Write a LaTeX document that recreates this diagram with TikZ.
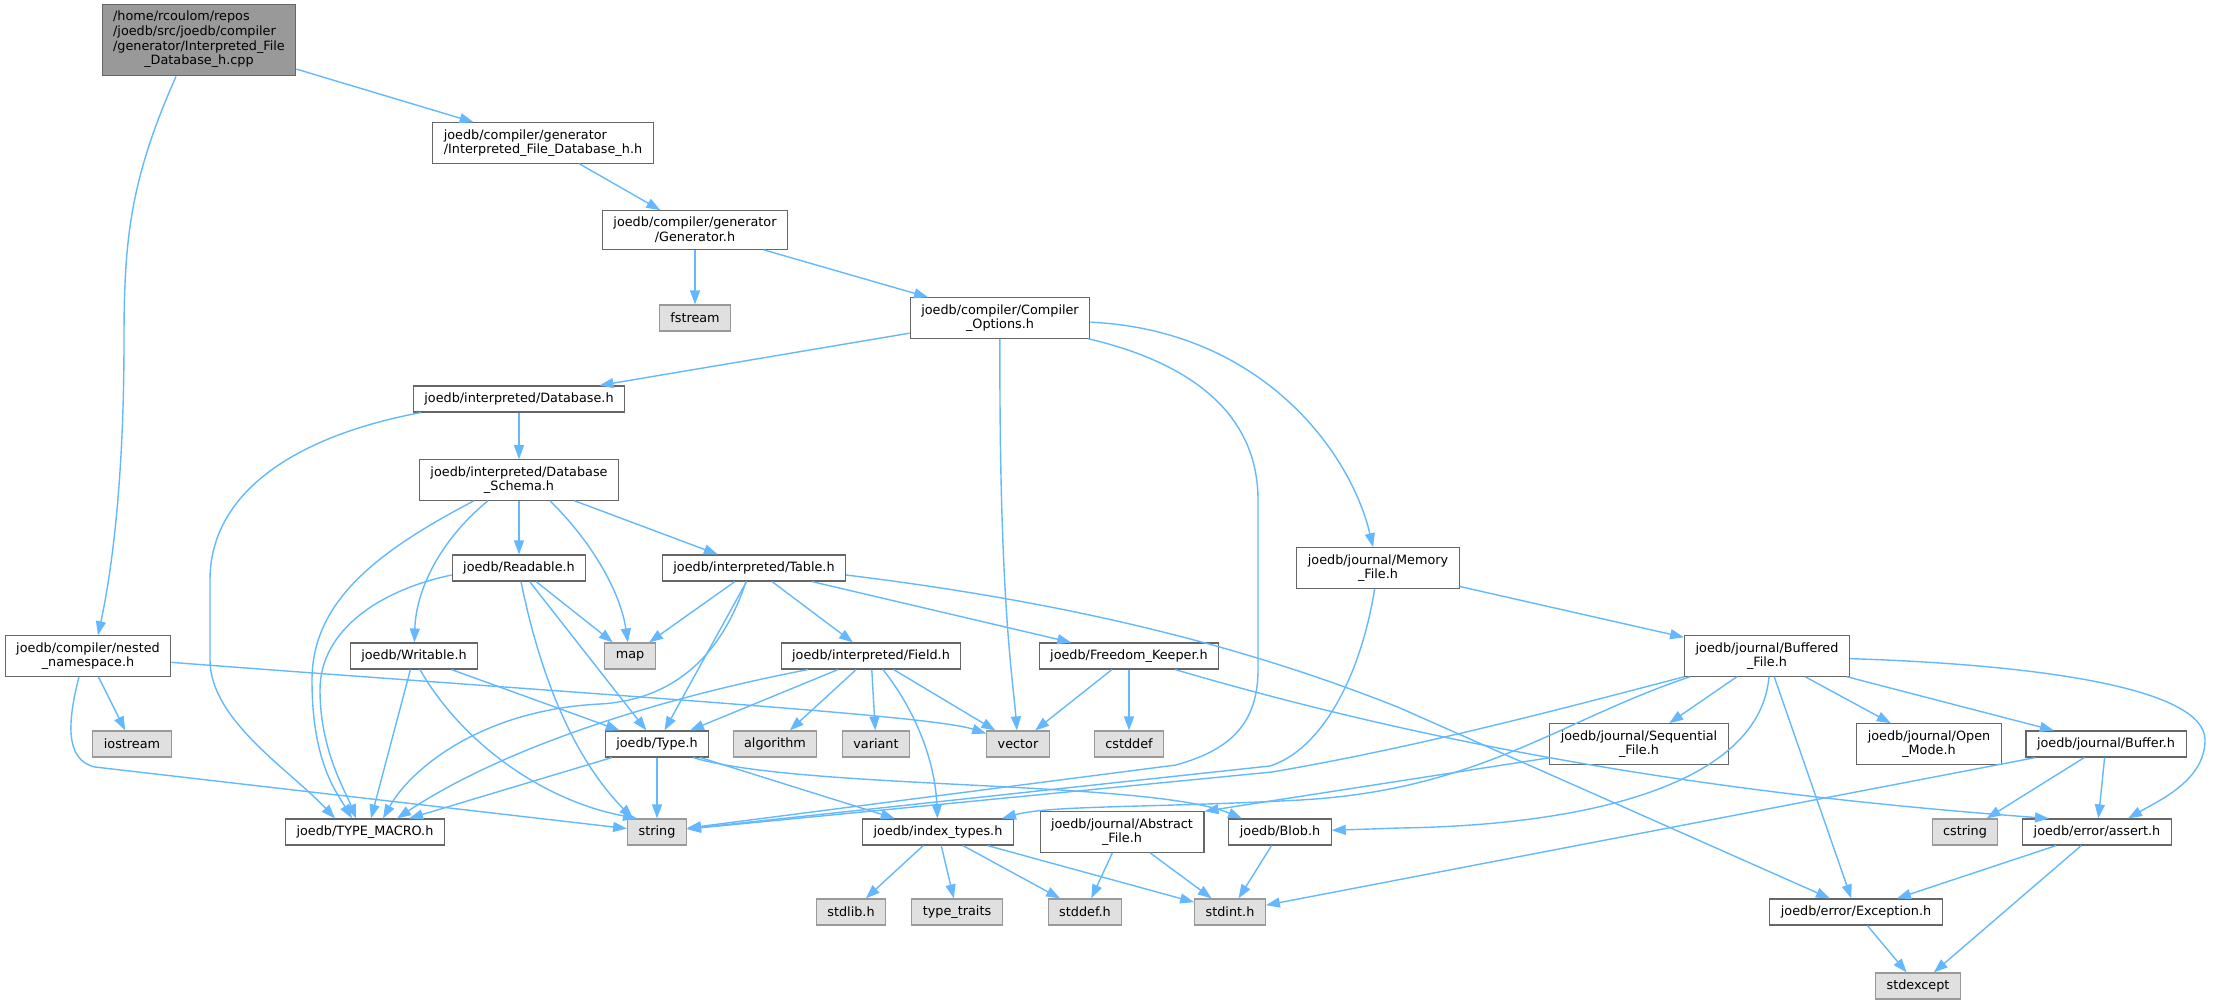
\documentclass[tikz,border=0pt]{standalone}
\usepackage{fontspec}
\setmainfont{DejaVu Sans}
\usepackage{tikz}
\usetikzlibrary{arrows.meta}
\definecolor{edgeblue}{HTML}{63B8FF}
\definecolor{docgray}{HTML}{666666}
\definecolor{sysgray}{HTML}{999999}
\definecolor{sysfill}{HTML}{E0E0E0}
\tikzset{>={Triangle[length=14pt, width=10pt]}}

\begin{document}
\begin{tikzpicture}[x=1pt, y=-1pt,
    hdr/.style={draw=docgray, line width=1.1pt, fill=white, align=center, inner xsep=11pt, inner ysep=6.5pt, minimum height=26pt, font=\fontsize{12.8}{14.7}\selectfont},
    syshdr/.style={hdr, draw=sysgray, fill=sysfill},
    srcfile/.style={hdr, fill=sysgray},
    incl/.style={->, draw=edgeblue, line width=1.4pt}]
    \useasboundingbox (0, 0) rectangle (2213, 1004);
    \node[srcfile] (root) at (199, 40) {\begin{tabular}{@{}l@{}}/home/rcoulom/repos\\/joedb/src/joedb/compiler\\/generator/Interpreted\_File\\\multicolumn{1}{@{}c@{}}{\_Database\_h.cpp}\end{tabular}};
    \node[hdr, align=left] (ifdh) at (543, 143) {joedb/compiler/generator\\/Interpreted\_File\_Database\_h.h};
    \node[hdr] (gen) at (695, 230) {joedb/compiler/generator\\/Generator.h};
    \node[syshdr] (fstream) at (695, 318) {fstream};
    \node[hdr] (copts) at (1000, 318) {joedb/compiler/Compiler\\\_Options.h};
    \node[hdr] (dbh) at (519, 399) {joedb/interpreted/Database.h};
    \node[hdr] (schema) at (519, 480) {joedb/interpreted/Database\\\_Schema.h};
    \node[hdr] (readable) at (519, 568) {joedb/Readable.h};
    \node[hdr] (table) at (754, 568) {joedb/interpreted/Table.h};
    \node[hdr] (memory) at (1378, 568) {joedb/journal/Memory\\\_File.h};
    \node[hdr] (nested) at (88, 656) {joedb/compiler/nested\\\_namespace.h};
    \node[hdr] (writable) at (414, 656) {joedb/Writable.h};
    \node[syshdr] (map) at (630, 656) {map};
    \node[hdr] (field) at (871, 656) {joedb/interpreted/Field.h};
    \node[hdr] (freedom) at (1129, 656) {joedb/Freedom\_Keeper.h};
    \node[hdr] (buffered) at (1767, 656) {joedb/journal/Buffered\\\_File.h};
    \node[syshdr] (iostream) at (132, 744) {iostream};
    \node[hdr] (type) at (657, 744) {joedb/Type.h};
    \node[syshdr] (algorithm) at (775, 744) {algorithm};
    \node[syshdr] (variant) at (876, 744) {variant};
    \node[syshdr] (vector) at (1018, 744) {vector};
    \node[syshdr] (cstddef) at (1129, 744) {cstddef};
    \node[hdr] (sequential) at (1639, 744) {joedb/journal/Sequential\\\_File.h};
    \node[hdr] (openmode) at (1929, 744) {joedb/journal/Open\\\_Mode.h};
    \node[hdr] (buffer) at (2106, 744) {joedb/journal/Buffer.h};
    \node[hdr] (typemacro) at (365, 832) {joedb/TYPE\_MACRO.h};
    \node[syshdr] (string) at (657, 832) {string};
    \node[hdr] (indextypes) at (938, 832) {joedb/index\_types.h};
    \node[hdr] (abstract) at (1122, 832) {joedb/journal/Abstract\\\_File.h};
    \node[hdr] (blob) at (1280, 832) {joedb/Blob.h};
    \node[syshdr] (cstring) at (1965, 832) {cstring};
    \node[hdr] (assert) at (2097, 832) {joedb/error/assert.h};
    \node[syshdr] (stdlib) at (851, 912) {stdlib.h};
    \node[syshdr] (typetraits) at (957, 912) {type\_traits};
    \node[syshdr] (stddef) at (1085, 912) {stddef.h};
    \node[syshdr] (stdint) at (1230, 912) {stdint.h};
    \node[hdr] (exception) at (1856, 912) {joedb/error/Exception.h};
    \node[syshdr] (stdexcept) at (1918, 986) {stdexcept};

    \draw[incl] (root) -- (ifdh);
    \draw[incl] ([xshift=-23pt]root.south) .. controls (130, 180) and (124, 240) .. (124, 340) .. controls (124, 480) and (112, 570) .. ([xshift=10pt]nested.north);
    \draw[incl] (ifdh) -- (gen);
    \draw[incl] (gen) -- (fstream);
    \draw[incl] (gen) -- (copts);
    \draw[incl] (copts) -- (dbh);
    \draw[incl] (copts) .. controls (999, 600) and (1013, 680) .. (vector);
    \draw[incl] (copts) .. controls (1200, 365) and (1258, 420) .. (1258, 500) -- (1258, 670) .. controls (1258, 730) and (1222, 752) .. (1176, 765) -- (string);
    \draw[incl] (copts) .. controls (1260, 330) and (1350, 450) .. (memory);
    \draw[incl] (dbh) -- (schema);
    \draw[incl] ([xshift=-98pt]dbh.south) .. controls (300, 435) and (210, 490) .. (210, 580) -- (210, 660) .. controls (210, 720) and (290, 770) .. ([xshift=-30pt]typemacro.north);
    \draw[incl] (schema) -- (readable);
    \draw[incl] ([xshift=-31pt]schema.south) .. controls (440, 540) and (416, 590) .. (writable);
    \draw[incl] ([xshift=-45pt]schema.south) .. controls (380, 550) and (312, 600) .. (312, 680) .. controls (312, 760) and (335, 790) .. ([xshift=-13pt]typemacro.north);
    \draw[incl] ([xshift=31pt]schema.south) .. controls (590, 540) and (620, 590) .. (map);
    \draw[incl] (schema) -- (table);
    \draw[incl] (readable) -- (map);
    \draw[incl] (readable) -- (type);
    \draw[incl] ([xshift=2pt]readable.south) .. controls (545, 700) and (585, 770) .. ([xshift=-24pt]string.north);
    \draw[incl] ([yshift=-7pt]readable.west) .. controls (380, 590) and (320, 630) .. (320, 690) .. controls (320, 750) and (345, 790) .. ([xshift=-9pt]typemacro.north);
    \draw[incl] (writable) -- (type);
    \draw[incl] ([xshift=6pt]writable.south) .. controls (460, 740) and (540, 800) .. ([xshift=-20pt]string.north);
    \draw[incl] (writable) -- ([xshift=6pt]typemacro.north);
    \draw[incl] (table) -- (map);
    \draw[incl] (table) -- (type);
    \draw[incl] ([xshift=-8pt]table.south) .. controls (720, 660) and (670, 700) .. (600, 704) .. controls (480, 710) and (410, 770) .. ([xshift=18pt]typemacro.north);
    \draw[incl] (table) -- (field);
    \draw[incl] (table) -- (freedom);
    \draw[incl] ([yshift=-7pt]table.east) .. controls (1050, 600) and (1230, 640) .. (1400, 708) -- ([xshift=-26pt]exception.north);
    \draw[incl] (field) -- (type);
    \draw[incl] (field) -- (algorithm);
    \draw[incl] (field) -- (variant);
    \draw[incl] (field) -- (vector);
    \draw[incl] ([xshift=12pt]field.south) .. controls (915, 710) and (935, 760) .. (indextypes);
    \draw[incl] ([xshift=-63pt]field.south) .. controls (650, 700) and (500, 750) .. ([xshift=32pt]typemacro.north);
    \draw[incl] (freedom) -- (vector);
    \draw[incl] (freedom) -- (cstddef);
    \draw[incl] (freedom) .. controls (1500, 765) and (1800, 800) .. ([xshift=-48pt]assert.north);
    \draw[incl] (nested) -- (iostream);
    \draw[incl] ([xshift=-9pt]nested.south) .. controls (68, 720) and (64, 760) .. (95, 767) -- (string);
    \draw[incl] (nested) .. controls (600, 695) and (930, 715) .. (vector);
    \draw[incl] (type) -- (string);
    \draw[incl] (type) -- ([xshift=44pt]typemacro.north);
    \draw[incl] (type) -- (indextypes);
    \draw[incl] ([xshift=36pt]type.south) .. controls (800, 790) and (1150, 780) .. ([xshift=-38pt]blob.north);
    \draw[incl] (indextypes) -- (stdlib);
    \draw[incl] (indextypes) -- (typetraits);
    \draw[incl] (indextypes) -- (stddef);
    \draw[incl] (indextypes) -- (stdint);
    \draw[incl] (abstract) -- (stddef);
    \draw[incl] (abstract) -- (stdint);
    \draw[incl] (blob) -- (stdint);
    \draw[incl] (memory) -- (buffered);
    \draw[incl] (memory) .. controls (1360, 680) and (1320, 750) .. (1270, 766) -- (string);
    \draw[incl] (buffered) -- (sequential);
    \draw[incl] (buffered) -- (openmode);
    \draw[incl] (buffered) -- (buffer);
    \draw[incl] (buffered.south west) .. controls (1520, 720) and (1400, 750) .. (1272, 772) -- (string);
    \draw[incl] ([xshift=-77pt]buffered.south) .. controls (1560, 720) and (1480, 790) .. (1300, 800) .. controls (1150, 808) and (1050, 805) .. ([xshift=64pt]indextypes.north);
    \draw[incl] (buffered) .. controls (2050, 665) and (2205, 690) .. (2205, 740) .. controls (2205, 780) and (2160, 800) .. ([xshift=31pt]assert.north);
    \draw[incl] (buffered) -- (exception);
    \draw[incl] ([xshift=2pt]buffered.south) .. controls (1760, 780) and (1600, 825) .. (1400, 828) -- (blob);
    \draw[incl] (sequential) -- (abstract.north east);
    \draw[incl] (buffer) -- (cstring);
    \draw[incl] (buffer) -- (assert);
    \draw[incl] (buffer) -- (stdint);
    \draw[incl] (assert) -- (exception);
    \draw[incl] (assert) -- (stdexcept);
    \draw[incl] (exception) -- (stdexcept);
\end{tikzpicture}
\end{document}
